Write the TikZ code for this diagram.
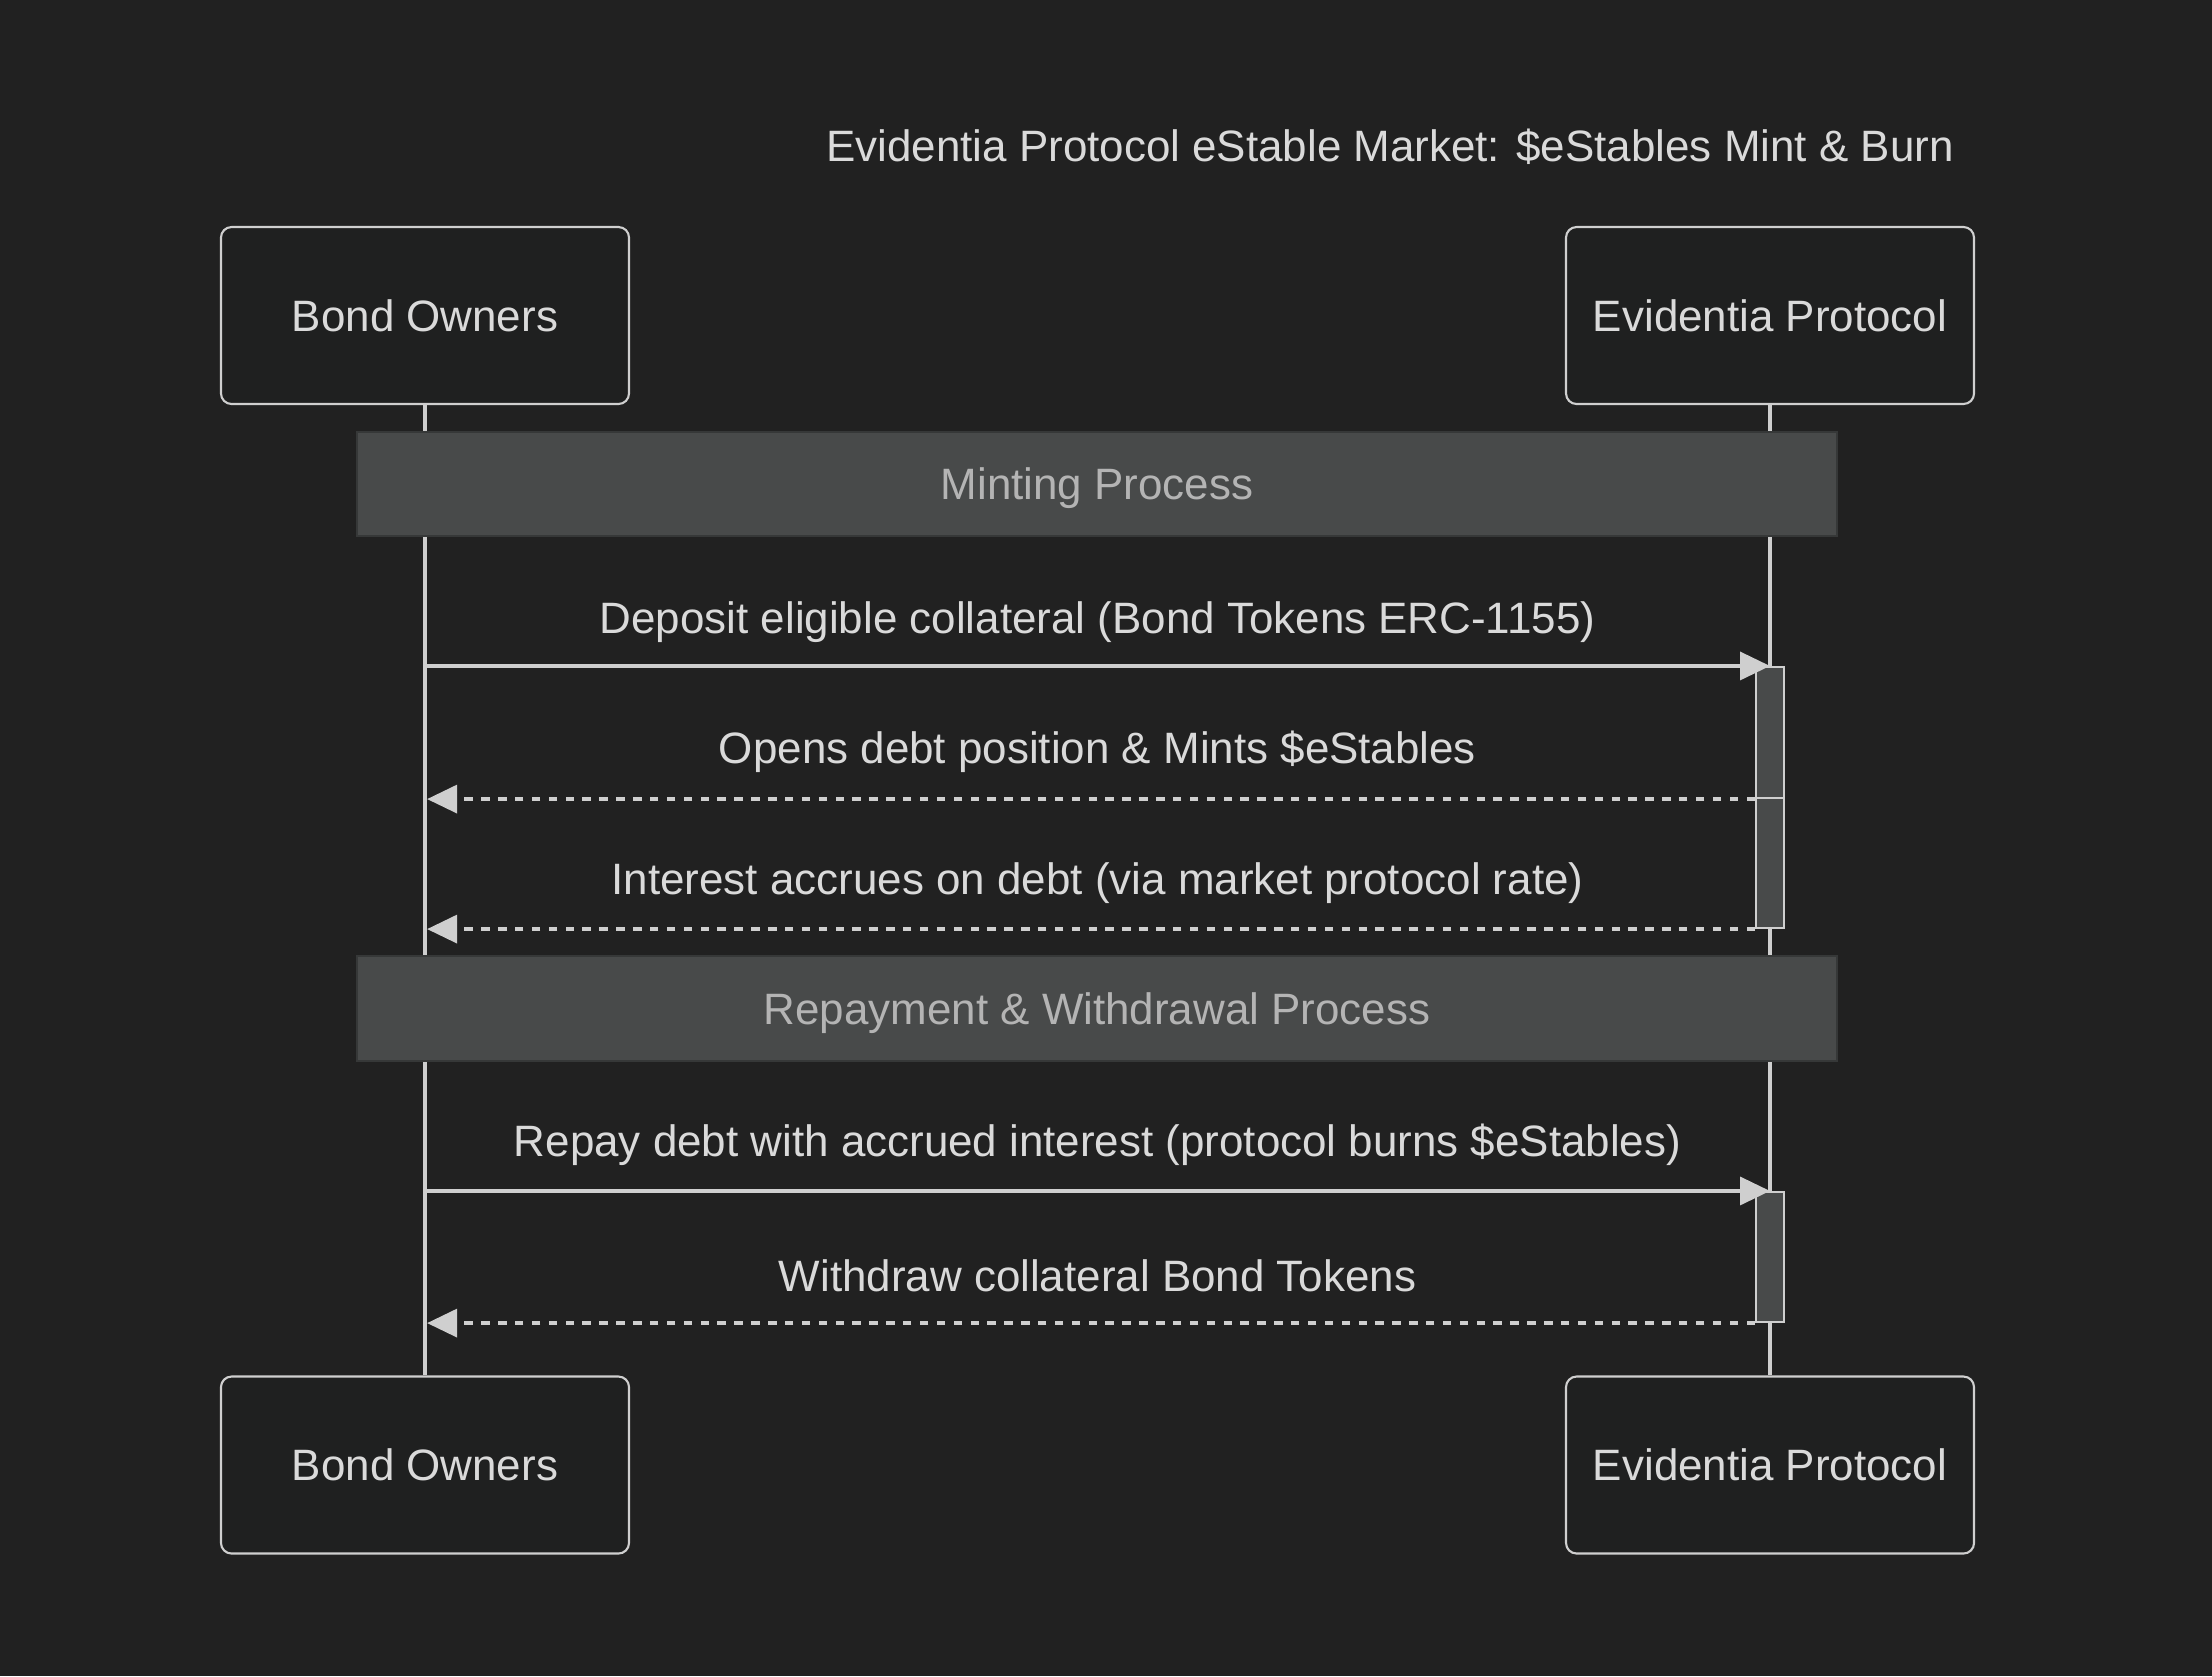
\documentclass[tikz,border=0pt]{standalone}
\usepackage{fontspec}
\setmainfont{Liberation Sans}
\usetikzlibrary{arrows.meta,calc,positioning}
\definecolor{Bg}{HTML}{212121}
\definecolor{Ink}{HTML}{DADADA}
\definecolor{Edge}{HTML}{CFCFCF}
\definecolor{BoxFill}{HTML}{1F2020}
\definecolor{NoteFill}{HTML}{484A4A}
\definecolor{NoteEdge}{HTML}{363838}
\definecolor{NoteText}{HTML}{B4B4B4}

\begin{document}
\begin{tikzpicture}[
  x=1cm,y=-1cm,
  font=\fontsize{12.5}{14.5}\selectfont,
  actor/.style={draw=Edge, fill=BoxFill, rounded corners=3pt, line width=0.6pt, text=Ink, minimum width=4.08cm, minimum height=1.77cm},
  life/.style={draw=Edge, line width=1.3pt},
  note/.style={draw=NoteEdge, fill=NoteFill, line width=0.6pt, text=NoteText, text depth=0pt, minimum width=14.80cm, minimum height=1.04cm},
  act/.style={draw=Edge, fill=NoteFill, line width=0.6pt, minimum width=0.28cm, inner sep=0pt},
  msgtext/.style={text=Ink},
  title/.style={text=Ink},
  msg/.style={draw=Edge, line width=1pt, -{Triangle[length=0.30cm, width=0.28cm, fill=Edge]}},
  reply/.style={msg, dash pattern=on 2.4pt off 2.4pt, shorten >=0.6pt}
]
  \useasboundingbox[fill=Bg] (0,0) rectangle (22.12,16.76);

  \node[title] (title) at (13.90,1.47) {Evidentia Protocol eStable Market: \$eStables Mint \& Burn};

  % participants
  \node[actor] (bo) at (4.25,3.155) {Bond Owners};
  \node[actor] (ep) at (17.70,3.155) {Evidentia Protocol};
  \node[actor] (bo2) at (4.25,14.65) {Bond Owners};
  \node[actor] (ep2) at (17.70,14.65) {Evidentia Protocol};

  \draw[life] (bo) -- (bo2);
  \draw[life] (ep) -- (ep2);

  % phases
  \node[note] (mint) at (10.97,4.84) {Minting Process};
  \node[note, minimum height=1.05cm] (repay) at (10.97,10.085) {Repayment \& Withdrawal Process};

  % activations
  \node[act, minimum height=1.31cm] (act1) at (17.70,7.325) {};
  \node[act, minimum height=1.30cm] (act2) at (17.70,8.63) {};
  \node[act, minimum height=1.30cm] (act3) at (17.70,12.57) {};

  % messages
  \node[msgtext] (l1) at (10.975,6.22) {Deposit eligible collateral (Bond Tokens ERC-1155)};
  \node[msgtext] (l2) at (10.975,7.52) {Opens debt position \& Mints \$eStables};
  \node[msgtext] (l3) at (10.975,8.83) {Interest accrues on debt (via market protocol rate)};
  \node[msgtext] (l4) at (10.975,11.45) {Repay debt with accrued interest (protocol burns \$eStables)};
  \node[msgtext] (l5) at (10.975,12.76) {Withdraw collateral Bond Tokens};

  \draw[msg] (act1.north -| bo) -- (act1.north);
  \draw[reply] (act1.south west) -- (act1.south west -| bo);
  \draw[reply] (act2.south west) -- (act2.south west -| bo);
  \draw[msg] (act3.north -| bo) -- (act3.north);
  \draw[reply] (act3.south west) -- (act3.south west -| bo);
\end{tikzpicture}
\end{document}
